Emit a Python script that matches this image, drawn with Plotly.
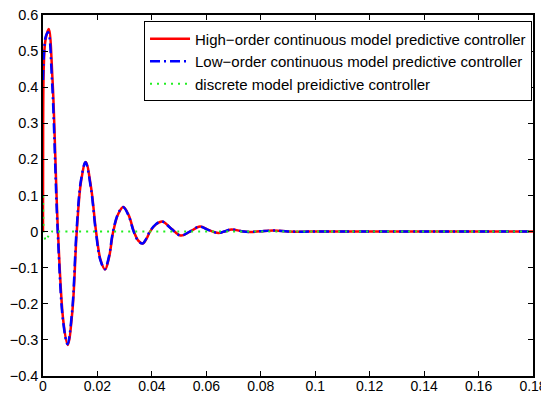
import plotly.graph_objects as go

# High-order continuous MPC response (key points)
t_high = [0, 0.00005, 0.0003, 0.0009, 0.0021, 0.0035, 0.0055, 0.0075, 0.0091, 0.0108, 0.0124,
          0.0140, 0.0157, 0.0177, 0.0195, 0.0212, 0.0228, 0.0243, 0.0258, 0.0277, 0.0295,
          0.0315, 0.0334, 0.0350, 0.0366, 0.0380, 0.0393, 0.0415, 0.0438, 0.0472, 0.0506,
          0.0540, 0.0577, 0.0610, 0.0644, 0.0670, 0.0693, 0.0730, 0.0760, 0.0800, 0.0845,
          0.0900, 0.0950, 0.1000, 0.1100, 0.1200, 0.1400, 0.1600, 0.1800]
y_high = [0, 0.30, 0.46, 0.53, 0.561, 0.42, 0.0, -0.25, -0.314, -0.22, 0.0,
          0.14, 0.193, 0.12, 0.0, -0.08, -0.105, -0.07, 0.0, 0.05, 0.068,
          0.045, 0.0, -0.025, -0.033, -0.02, 0.0, 0.02, 0.028, 0.008, -0.011,
          0.0, 0.014, 0.004, -0.004, 0.001, 0.006, 0.001, -0.001, 0.001, 0.003,
          0.0005, -0.0005, 0.0005, 0.0, 0.0, 0.0, 0.0, 0.0]

# Low-order continuous MPC response
t_low = [0, 0.0004, 0.0010, 0.0019, 0.0033, 0.0054, 0.0074, 0.0090, 0.0107, 0.0123,
         0.0139, 0.0156, 0.0176, 0.0194, 0.0211, 0.0227, 0.0242, 0.0257, 0.0276, 0.0294,
         0.0314, 0.0333, 0.0349, 0.0365, 0.0379, 0.0392, 0.0414, 0.0437, 0.0471, 0.0505,
         0.0539, 0.0576, 0.0609, 0.0643, 0.0669, 0.0692, 0.0729, 0.0759, 0.0799, 0.0844,
         0.0900, 0.0950, 0.1000, 0.1100, 0.1200, 0.1400, 0.1600, 0.1800]
y_low = [0.42, 0.50, 0.54, 0.552, 0.42, 0.0, -0.25, -0.312, -0.22, 0.0,
         0.14, 0.192, 0.12, 0.0, -0.08, -0.104, -0.07, 0.0, 0.05, 0.068,
         0.045, 0.0, -0.025, -0.033, -0.02, 0.0, 0.02, 0.028, 0.008, -0.011,
         0.0, 0.014, 0.004, -0.004, 0.001, 0.006, 0.001, -0.001, 0.001, 0.003,
         0.0005, -0.0005, 0.0005, 0.0, 0.0, 0.0, 0.0, 0.0]

# Discrete MPC response
t_disc = [0, 0.0003, 0.0010, 0.0020, 0.0030, 0.0050, 0.0100, 0.0500, 0.1000, 0.1800]
y_disc = [0.10, 0.0, -0.025, -0.012, 0.0, 0.0, 0.0, 0.0, 0.0, 0.0]

names = ["High\u2212order continuous model predictive controller",
         "Low\u2212order continuous model predictive controller",
         "discrete model preidictive controller"]

x_ticks = [0, 0.02, 0.04, 0.06, 0.08, 0.1, 0.12, 0.14, 0.16, 0.18]
y_ticks = [-0.4, -0.3, -0.2, -0.1, 0, 0.1, 0.2, 0.3, 0.4, 0.5, 0.6]

FONT = "Liberation Sans, Arial, Helvetica, sans-serif"

fig = go.Figure()
fig.add_trace(go.Scatter(x=t_high, y=y_high, mode="lines", name=names[0],
                         line=dict(color="#ff0000", width=2.5, shape="spline", smoothing=1.0)))
fig.add_trace(go.Scatter(x=t_low, y=y_low, mode="lines", name=names[1],
                         line=dict(color="#0000ff", width=2.5, dash="10px,4px,2px,4px",
                                   shape="spline", smoothing=1.0)))
fig.add_trace(go.Scatter(x=t_disc, y=y_disc, mode="lines", name=names[2],
                         line=dict(color="#22ee22", width=2, dash="2px,5px",
                                   shape="spline", smoothing=0.6)))

axis_common = dict(showgrid=False, zeroline=False, showline=True, linecolor="black", linewidth=1.5,
                   mirror="ticks", ticks="inside", ticklen=5, tickwidth=1, tickcolor="black",
                   automargin=False, ticklabeloverflow="allow")

fig.update_xaxes(range=[0, 0.18], tickvals=x_ticks,
                 ticktext=[("%g" % v) for v in x_ticks], ticklabelstandoff=-4,
                 tickfont=dict(family=FONT, size=14, color="black"), **axis_common)
fig.update_yaxes(range=[-0.4, 0.6], tickvals=y_ticks,
                 ticktext=[("%g" % v).replace("-", "\u2212") for v in y_ticks],
                 tickfont=dict(family=FONT, size=14.5, color="black"), **axis_common)

# page body adds an 8px offset, so the figure is sized/margined to compensate
fig.update_layout(
    width=541, height=386,
    margin=dict(l=35, r=16, t=7, b=18),
    plot_bgcolor="white", paper_bgcolor="white",
    font=dict(family=FONT, size=14.5, color="black"),
    legend=dict(x=0.998, y=0.982, xanchor="right", yanchor="top",
                bgcolor="white", bordercolor="black", borderwidth=1,
                font=dict(family=FONT, size=15), tracegroupgap=0, itemwidth=40),
    showlegend=True,
)

fig.write_html("out.html")
